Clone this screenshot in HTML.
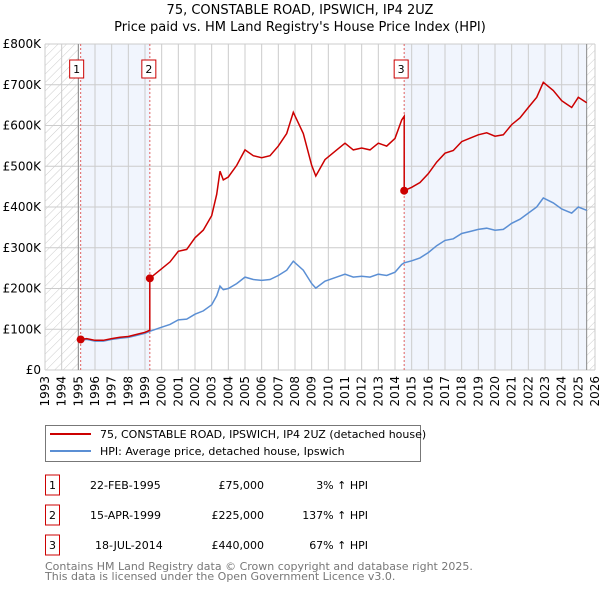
<!DOCTYPE html>
<html><head><meta charset="utf-8"><style>
body{margin:0;background:#fff;font-family:"DejaVu Sans","Liberation Sans",sans-serif;}
svg text{font-family:"DejaVu Sans","Liberation Sans",sans-serif;}
</style></head><body>
<svg id="chart" width="600" height="590" xmlns="http://www.w3.org/2000/svg">
<defs>
<pattern id="hatch" width="6" height="6" patternUnits="userSpaceOnUse" patternTransform="rotate(45)">
<line x1="0" y1="0" x2="0" y2="6" stroke="#ccc" stroke-width="1"/>
</pattern>
</defs>
<text x="300" y="14" text-anchor="middle" font-size="13">75, CONSTABLE ROAD, IPSWICH, IP4 2UZ</text>
<text x="300" y="31" text-anchor="middle" font-size="13">Price paid vs. HM Land Registry's House Price Index (HPI)</text>
<g id="plot"></g>
<g>
<rect x="45.5" y="425.5" width="375" height="36" fill="#fff" stroke="#777"/>
<line x1="50" y1="434" x2="91" y2="434" stroke="#cc0000" stroke-width="2"/>
<text x="100" y="438" font-size="11">75, CONSTABLE ROAD, IPSWICH, IP4 2UZ (detached house)</text>
<line x1="50" y1="451" x2="91" y2="451" stroke="#5b8fd4" stroke-width="2"/>
<text x="100" y="455" font-size="11">HPI: Average price, detached house, Ipswich</text>
</g>
<g id="table" font-size="11"></g>
<text x="45" y="570" font-size="11" fill="#777">Contains HM Land Registry data © Crown copyright and database right 2025.</text>
<text x="45" y="580" font-size="11" fill="#777">This data is licensed under the Open Government Licence v3.0.</text>
</svg>
<script>
const hpiYears=[1995.0,1995.14,1995.5,1996,1996.5,1997,1997.5,1998,1998.5,1999,1999.29,2000,2000.5,2001,2001.5,2002,2002.5,2003,2003.3,2003.5,2003.7,2004,2004.5,2005,2005.5,2006,2006.5,2007,2007.5,2007.9,2008.5,2009,2009.25,2009.8,2010.5,2011,2011.5,2012,2012.5,2013,2013.5,2014,2014.4,2014.55,2015,2015.5,2016,2016.5,2017,2017.5,2018,2018.5,2019,2019.5,2020,2020.5,2021,2021.5,2022,2022.5,2022.9,2023.5,2024,2024.3,2024.6,2025,2025.5];
const hpiValues=[73,73,75,71,71,75,78,80,85,90,95,105,112,123,125,137,145,160,182,206,197,200,212,228,222,220,222,232,245,267,245,212,201,218,228,235,228,230,228,235,232,240,259,263,268,275,288,305,318,322,335,340,345,348,343,345,360,370,385,400,422,410,395,390,385,400,392];
const saleDates=[1995.14,1999.29,2014.55];
const salePrices=[75,225,440];
const saleLabels=["1","2","3"];
const saleDateText=["22-FEB-1995","15-APR-1999","18-JUL-2014"];
const salePriceText=["£75,000","£225,000","£440,000"];
const salePctText=["3% ↑ HPI","137% ↑ HPI","67% ↑ HPI"];
const yTicks=[0,100,200,300,400,500,600,700,800];
const yTickLabels=["£0","£100K","£200K","£300K","£400K","£500K","£600K","£700K","£800K"];

const X0=45,X1=595,Y0=370,Y1=44,T0=1993,T1=2026;
const xs=t=>X0+(t-T0)/(T1-T0)*(X1-X0);
const ys=v=>Y0-v/800*(Y0-Y1);
const NS="http://www.w3.org/2000/svg";
const plot=document.getElementById('plot');
function mk(tag,attrs,parent){const e=document.createElementNS(NS,tag);for(const k in attrs)e.setAttribute(k,attrs[k]);(parent||plot).appendChild(e);return e;}
function hpiAt(t){for(let i=0;i<hpiYears.length-1;i++){if(t>=hpiYears[i]&&t<=hpiYears[i+1]){const f=(t-hpiYears[i])/(hpiYears[i+1]-hpiYears[i]);return hpiValues[i]+f*(hpiValues[i+1]-hpiValues[i]);}}return hpiValues[hpiValues.length-1];}

let e;
e=mk('rect',{x:X0,y:Y1,width:X1-X0,height:Y0-Y1,fill:'#fff'});


const endData=2025.5;
e=mk('rect',{x:X0,y:Y1,width:xs(1995)-X0,height:Y0-Y1,fill:'url(#hatch)'});


e=mk('rect',{x:xs(endData),y:Y1,width:X1-xs(endData),height:Y0-Y1,fill:'url(#hatch)'});


e=mk('rect',{x:xs(saleDates[0]),y:Y1,width:xs(saleDates[1])-xs(saleDates[0]),height:Y0-Y1,fill:'#eef3fc',opacity:0.8});


e=mk('rect',{x:xs(saleDates[2]),y:Y1,width:xs(endData)-xs(saleDates[2]),height:Y0-Y1,fill:'#eef3fc',opacity:0.8});



for(let yr=T0;yr<=T1;yr++){
  e=mk('line',{x1:xs(yr),x2:xs(yr),y1:Y1,y2:Y0,stroke:'#ccc','stroke-width':1});
  
  
  e=mk('text',{x:0,y:0,'font-size':12,'text-anchor':'end',transform:`translate(${xs(yr)+4},${Y0+6}) rotate(-90)`});
  e.textContent=yr;
  
  
}
yTicks.forEach((v,i)=>{
  e=mk('line',{x1:X0,x2:X1,y1:ys(v),y2:ys(v),stroke:'#ccc','stroke-width':1});
  
  
  e=mk('text',{x:X0-4,y:ys(v)+4,'font-size':12,'text-anchor':'end'});
  e.textContent=yTickLabels[i];
  
  
});
e=mk('line',{x1:xs(1995),x2:xs(1995),y1:Y1,y2:Y0,stroke:'#888','stroke-width':1});


e=mk('line',{x1:xs(endData),x2:xs(endData),y1:Y1,y2:Y0,stroke:'#888','stroke-width':1});



saleDates.forEach((d,i)=>{
  e=mk('line',{x1:xs(d),x2:xs(d),y1:Y1,y2:Y0,stroke:'#e06060','stroke-width':1,'stroke-dasharray':'2,2'});
  
  
  const bx=xs(d)-(i<2?8:0)-7;
  e=mk('rect',{x:xs(d)-7-(i===0?4:i===1?1:3),y:60,width:14,height:18,fill:'#fff',stroke:'#cc0000'});
  
  
  e=mk('text',{x:xs(d)-(i===0?4:i===1?1:3),y:73,'font-size':11,'text-anchor':'middle'});
  e.textContent=saleLabels[i];
  
  
});

// HPI line
let pts=hpiYears.map((t,i)=>xs(t).toFixed(1)+','+ys(hpiValues[i]).toFixed(1)).join(' ');
e=mk('polyline',{points:pts,fill:'none',stroke:'#5b8fd4','stroke-width':1.5});



// Property line: indexed from each sale
let rp=[];
saleDates.forEach((d,i)=>{
  const end=i<saleDates.length-1?saleDates[i+1]:endData;
  const ratio=salePrices[i]/hpiAt(d);
  const ts=[d].concat(hpiYears.filter(t=>t>d&&t<end)).concat([end]);
  ts.forEach(t=>rp.push(xs(t).toFixed(1)+','+ys(hpiAt(t)*ratio).toFixed(1)));
});
e=mk('polyline',{points:rp.join(' '),fill:'none',stroke:'#cc0000','stroke-width':1.5});


saleDates.forEach((d,i)=>{
  e=mk('circle',{cx:xs(d),cy:ys(salePrices[i]),r:4,fill:'#cc0000'});
  
  
});

// Table
const tbl=document.getElementById('table');
saleDates.forEach((d,i)=>{
  const cy=485+i*30;
  e=mk('rect',{x:45.5,y:cy-10,width:14,height:20,fill:'#fff',stroke:'#cc0000'},tbl);
  
  
  e=mk('text',{x:52.5,y:cy+4,'text-anchor':'middle'},tbl);e.textContent=saleLabels[i];
  
  
  e=mk('text',{x:i===2?95:90,y:cy+4},tbl);e.textContent=saleDateText[i];
  
  
  e=mk('text',{x:264,y:cy+4,'text-anchor':'end'},tbl);e.textContent=salePriceText[i];
  
  
  e=mk('text',{x:368,y:cy+4,'text-anchor':'end'},tbl);e.textContent=salePctText[i];
  
  
});
</script>
</body></html>
